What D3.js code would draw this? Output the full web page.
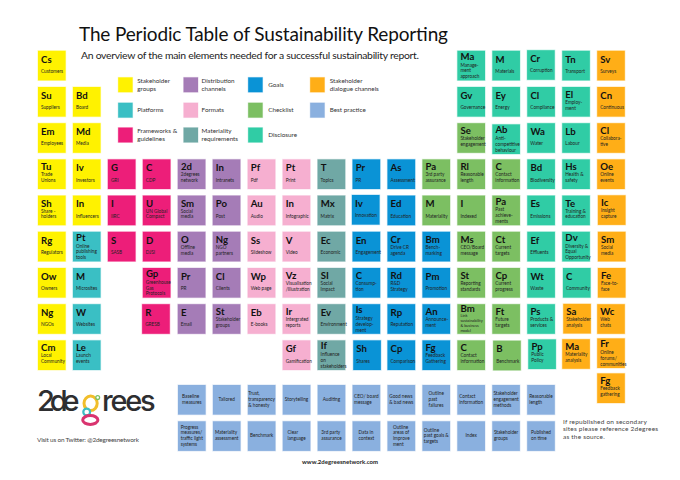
<!DOCTYPE html>
<html><head><meta charset="utf-8">
<script src="https://cdn.jsdelivr.net/npm/d3@7/dist/d3.min.js"></script>
<style>html,body{margin:0;padding:0;background:#fff}svg{display:block}text{font-family:Lato,"Open Sans",sans-serif}</style>
</head><body><div id="c"></div>
<script>
const title = "The Periodic Table of Sustainability Reporting";
const subtitle = "An overview of the main elements needed for a successful sustainability report.";

// [legend code, label lines]
const categories = [
  ["sg", ["Stakeholder","groups"]],
  ["pl", ["Platforms"]],
  ["fw", ["Frameworks &","guidelines"]],
  ["dc", ["Distribution","channels"]],
  ["fo", ["Formats"]],
  ["mr", ["Materiality","requirements"]],
  ["go", ["Goals"]],
  ["cl", ["Checklist"]],
  ["di", ["Disclosure"]],
  ["sd", ["Stakeholder","dialogue channels"]],
  ["bp", ["Best practice"]]
];
const categoryColors = ["#FFF200","#3ABFC4","#ED1E79","#A57CB7","#F6AFD0","#70A8A5","#0A93D6","#7CBF62","#30CCA5","#FFAE17","#8AB0DF"];

// Each column lists its rows from the top: [symbol, name lines, category]; null is an empty slot
const col0 = [["Cs","Customers","sg"],["Su","Suppliers","sg"],["Em","Employees","sg"],["Tu","Trade|Unions","sg"],["Sh","Share -|holders","sg"],["Rg","Regulators","sg"],["Ow","Owners","sg"],["Ng","NGOs","sg"],["Cm","Local|Community","sg"]];
const col1 = [null,["Bd","Board","sg"],["Md","Media","sg"],["Iv","Investors","sg"],["In","Influencers","sg"],["Pt","Online|publishing|tools","pl"],["M","Microsites","pl"],["W","Websites","pl"],["Le","Launch|events","pl"]];
const col2 = [null,null,null,["G","GRI","fw"],["I","IIRC","fw"],["S","SASB","fw"]];
const col3 = [null,null,null,["C","CDP","fw"],["U","UN Global|Compact","fw"],["D","DJSI","fw"],["Gp","Greenhouse|Gas|Protocols","fw"],["R","GRESB","fw"]];
const col4 = [null,null,null,["2d","2degrees|network","dc"],["Sm","Social|media","dc"],["O","Offline|media","dc"],["Pr","PR","dc"],["E","Email","dc"]];
const col5 = [null,null,null,["In","Intranets","dc"],["Po","Post","dc"],["Ng","NGO|partners","dc"],["Cl","Clients","dc"],["St","Stakeholder|groups","dc"]];
const col6 = [null,null,null,["Pf","Pdf","fo"],["Au","Audio","fo"],["Ss","Slideshow","fo"],["Wp","Web page","fo"],["Eb","E-books","fo"]];
const col7 = [null,null,null,["Pt","Print","fo"],["In","Infographic","fo"],["V","Video","fo"],["Vz","Visualisation|/Illustration","fo"],["Ir","Intergrated|reports","fo"],["Gf","Gamification","fo"]];
const col8 = [null,null,null,["T","Topics","mr"],["Mx","Matrix","mr"],["Ec","Economic","mr"],["SI","Social|Impact","mr"],["Ev","Environment","mr"],["If","Influence|on|stakeholders","mr"]];
const col9 = [null,null,null,["Pr","PR","go"],["Iv","Innovation","go"],["En","Engagement","go"],["C","Consump-|tion","go"],["Is","Strategy|develop-|ment","go"],["Sh","Shares","go"]];
const col10 = [null,null,null,["As","Assessment","go"],["Ed","Education","go"],["Cr","Drive CR|agenda","go"],["Rd","R&D|Strategy","go"],["Rp","Reputation","go"],["Cp","Comparison","go"]];
const col11 = [null,null,null,["Pa","3rd party|assurance","cl"],["M","Materiality","cl"],["Bm","Bench-|marking","go"],["Pm","Promotion","go"],["An","Announce-|ment","go"],["Fg","Feedback|Gathering","go"]];
const col12 = [["Ma","Manage-|ment|approach","di"],["Gv","Governance","di"],["Se","Stakeholder|engagement","cl"],["Rl","Reasonable|length","cl"],["I","Indexed","cl"],["Ms","CEO/Board|message","cl"],["St","Reporting|standards","cl"],["Bm","Link|sustainability|& business|model","cl"],["C","Contact|information","cl"]];
const col13 = [["M","Materials","di"],["Ey","Energy","di"],["Ab","Anti-|competitive|behaviour","di"],["C","Contact|information","cl"],["Pa","Past|achieve-|ments","cl"],["Ct","Current|targets","cl"],["Cp","Current|progress","cl"],["Ft","Future|targets","cl"],["B","Benchmark","cl"]];
const col14 = [["Cr","Corruption","di"],["Cl","Compliance","di"],["Wa","Water","di"],["Bd","Biodiversity","di"],["Es","Emissions","di"],["Ef","Effluents","di"],["Wt","Waste","di"],["Ps","Products &|services","di"],["Pp","Public|Policy","di"]];
const col15 = [["Tn","Transport","di"],["El","Employ-|ment","di"],["Lb","Labour","di"],["Hs","Health &|safety","di"],["Te","Training &|education","di"],["Dv","Diversity &|Equal|Opportunity","di"],["C","Community","di"],["Sa","Stakeholder|analysis","sd"],["Ma","Materiality|analysis","sd"]];
const col16 = [["Sv","Surveys","sd"],["Cn","Continuous","sd"],["Cl","Collabora-|tive","sd"],["Oe","Online|events","sd"],["Ic","Insight|capture","sd"],["Sm","Social|media","sd"],["Fe","Face-to-|face","sd"],["Wc","Web|chats","sd"],["Fr","Online|forums/|communities","sd"],["Fg","Feedback|gathering","sd"]];
const columns = [col0,col1,col2,col3,col4,col5,col6,col7,col8,col9,col10,col11,col12,col13,col14,col15,col16];

const bestRow0 = ["Baseline|measures","Tailored","Trust,|transparency|& honesty","Storytelling","Auditing","CEO/ board|message","Good news|& bad news","Outline|past|failures","Contact|information","Stakeholder|engagement|methods","Reasonable|length"];
const bestRow1 = ["Progress|measures/|traffic light|systems","Materiality|assessment","Benchmark","Clear|language","3rd party|assurance","Data in|context","Outline|areas of|improve|ment","Outline|past goals &|targets","Index","Stakeholder|groups","Published|on time"];

const twitterText = "Visit us on Twitter: @2degreesnetwork";
const webText = "www.2degreesnetwork.com";
const noteLines = ["If republished on secondary","sites please reference 2degrees","as the source."];

// ---------- drawing ----------
const W = 680, H = 480, cw = 27.6, ch = 29.6;
const svg = d3.select("#c").append("svg").attr("width",W).attr("height",H).attr("viewBox",[0,0,W,H]);
const color = d3.scaleOrdinal(categories.map(c=>c[0]), categoryColors);
const xCol = d3.scaleLinear().domain([0,16]).range([38,597.2]);
const yRow = d3.scaleLinear().domain([0,8]).range([50.8,340.4]);
const yBest = d3.scaleLinear().domain([0,1]).range([385,421.3]);
const xBest = d3.scaleLinear().domain([0,10]).range([178,527.2]);

// small hand placement differences of the original sheet
const nudge = {"16:8":[0,-2],"16:9":[0,-3.2],"15:8":[0,-1.2],"13:2":[0,1.2],"13:8":[.8,.3],"14:8":[1,-1],"14:0":[-.2,-.6],"3:7":[-.7,0],"15:6":[.7,0],"15:7":[1,-.3],"16:4":[.7,-.3],"16:5":[.7,0],"16:6":[.7,0],"9:4":[-.6,-.6],"9:8":[.7,0]};

const cells = columns.flatMap((col,c)=>col.map((d,r)=>d&&{sym:d[0],lines:d[1].split("|"),cat:d[2],c,r,k:c+":"+r})).filter(Boolean);
const cellG = svg.append("g").selectAll("g").data(cells).join("g")
  .attr("transform",d=>{const n=nudge[d.k]||[0,0];return `translate(${xCol(d.c)+n[0]},${yRow(d.r)+n[1]})`;});
cellG.append("rect").attr("width",cw).attr("height",ch).attr("fill",d=>color(d.cat))
  .attr("stroke",d=>color(d.cat)).attr("stroke-opacity",.3).attr("stroke-width",1.2);
const symBase = {1:11.8,2:11,3:9.1,4:8.1};
cellG.append("text").text(d=>d.sym).attr("x",3.1).attr("y",d=>symBase[d.lines.length]).attr("font-size",9.6).attr("font-weight",700).attr("fill","#111");
const firstCentre = {1:20.6,2:15.5,3:14.3,4:11.6};
cellG.each(function(d){
  const g=d3.select(this), n=d.lines.length, fs=n===4?3.9:4.7, lh=n===4?4.8:5.75;
  g.selectAll("text.n").data(d.lines).join("text").attr("class","n").text(t=>t)
    .attr("x",3).attr("y",(t,i)=>firstCentre[n]+i*lh+1.6).attr("font-size",fs).attr("fill","#222");
});

// best practice tiles
const best = [bestRow0,bestRow1].flatMap((row,r)=>row.map((s,c)=>({lines:s.split("|"),c,r})));
const bestG = svg.append("g").selectAll("g").data(best).join("g")
  .attr("transform",d=>`translate(${xBest(d.c)},${yBest(d.r)})`);
bestG.append("rect").attr("width",cw).attr("height",ch).attr("fill",color("bp"))
  .attr("stroke",color("bp")).attr("stroke-opacity",.3).attr("stroke-width",1.2);
bestG.each(function(d){
  const g=d3.select(this), n=d.lines.length, lh=5.75;
  const t=g.selectAll("text").data(d.lines).join("text").text(s=>s).attr("font-size",4.7).attr("fill","#222")
    .attr("y",(s,i)=>ch/2-0.3+(i-(n-1)/2)*lh+1.5);
  let mw=0; t.each(function(){mw=Math.max(mw,this.getComputedTextLength());});
  t.attr("x",(cw-mw)/2);
});

// legend
const legX = d3.scaleOrdinal([0,1,2,3],[118.2,183.6,248.2,310.2]);
const legY = d3.scaleOrdinal([0,1,2],[77.4,102.8,127.6]);
const legend = svg.append("g").selectAll("g").data(categories.map((c,i)=>({lines:c[1],code:c[0],col:i<9?Math.floor(i/3):3,row:i<9?i%3:i-9})))
  .join("g").attr("transform",d=>`translate(${legX(d.col)},${legY(d.row)})`);
legend.append("rect").attr("width",14.4).attr("height",14.8).attr("fill",d=>color(d.code))
  .attr("stroke",d=>color(d.code)).attr("stroke-opacity",.3).attr("stroke-width",1);
legend.each(function(d){
  const g=d3.select(this), n=d.lines.length, lx=[19,18,20,19.5][d.col];
  g.selectAll("text").data(d.lines).join("text").text(s=>s).attr("x",lx)
    .attr("y",(s,i)=>7.4+(i-(n-1)/2)*7.8+2.1).attr("font-size",6.3).attr("fill","#333");
});

// headings
svg.append("text").text(title).attr("x",79).attr("y",41).attr("font-size",19).attr("fill","#111").attr("textLength",369);
svg.append("text").text(subtitle).attr("x",81).attr("y",58.8).attr("font-size",10.4).attr("fill","#222").attr("textLength",338);

// logo
const logo = svg.append("g");
const dark = "#2e2e30";
logo.append("text").text("2de").attr("x",37).attr("y",411).style("font-size","29px").style("font-family","Inter").style("font-weight",500).attr("fill",dark).attr("textLength",42.5);
logo.append("text").text("rees").attr("x",102).attr("y",411).style("font-size","29px").style("font-family","Inter").style("font-weight",500).attr("fill",dark).attr("textLength",53.5);
logo.append("ellipse").attr("cx",90.6).attr("cy",403.3).attr("rx",6.6).attr("ry",7.2).attr("fill","none").attr("stroke","#F1BE2B").attr("stroke-width",3);
logo.append("circle").attr("cx",97.7).attr("cy",397.6).attr("r",1.9).attr("fill","#fff").attr("stroke","#7CBF62").attr("stroke-width",1.3);
logo.append("circle").attr("cx",86.7).attr("cy",412).attr("r",3.4).attr("fill","#fff").attr("stroke","#3ABFC4").attr("stroke-width",2.2);
logo.append("ellipse").attr("cx",90.3).attr("cy",420).attr("rx",7.6).attr("ry",4.4).attr("fill","none").attr("stroke","#D9346F").attr("stroke-width",3);

svg.append("text").text(twitterText).attr("x",37).attr("y",441.5).attr("font-size",6.4).attr("fill","#444").attr("textLength",102);
svg.append("text").text(webText).attr("x",302).attr("y",463.5).attr("font-size",6).attr("font-weight",700).attr("fill","#222").attr("textLength",76);
svg.append("g").selectAll("text").data(noteLines).join("text").text(s=>s).attr("x",563)
  .attr("y",(s,i)=>423.5+i*7.9).attr("font-size",6.5).attr("letter-spacing",.2).attr("fill","#444");
</script></body></html>
